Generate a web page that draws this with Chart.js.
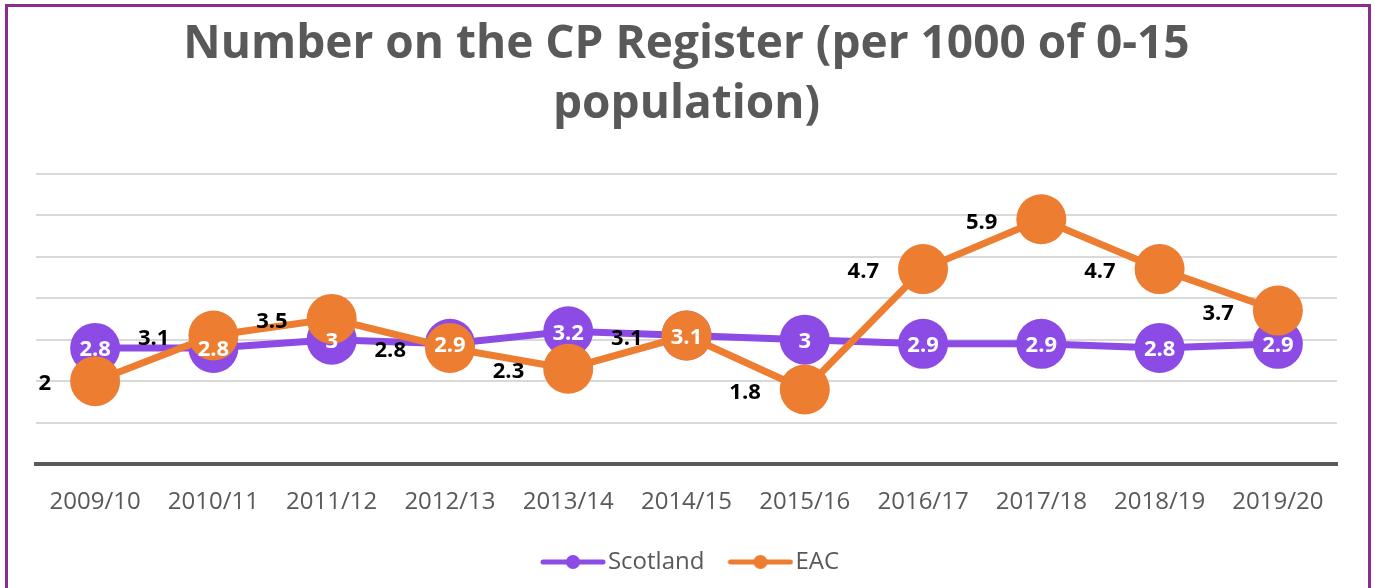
<!DOCTYPE html>
<html>
<head>
<meta charset="utf-8">
<script src="https://cdn.jsdelivr.net/npm/chart.js@4.4.1/dist/chart.umd.min.js"></script>
<style>
  html, body { margin: 0; padding: 0; background: #fff; }
  #wrap { position: relative; width: 1375px; height: 588px; }
  #frame { position: absolute; left: 5px; top: 4px; width: 1360px; height: 600px; border: 3px solid #8B2D8F; }
  canvas { position: absolute; left: 0; top: 0; }
</style>
</head>
<body>
<div id="wrap">
  <div id="frame"></div>
  <canvas id="cpChart" width="1375" height="588"></canvas>
</div>
<script>
// chart values
const years = ["2009/10", "2010/11", "2011/12", "2012/13", "2013/14", "2014/15",
               "2015/16", "2016/17", "2017/18", "2018/19", "2019/20"];
const scotland = [2.8, 2.8, 3, 2.9, 3.2, 3.1, 3, 2.9, 2.9, 2.8, 2.9];
const eac = [2, 3.1, 3.5, 2.8, 2.3, 3.1, 1.8, 4.7, 5.9, 4.7, 3.7];

const PURPLE = "#8C4BE4";
const ORANGE = "#ED7D31";
const GREY = "#595959";
const FONT = "'Open Sans', sans-serif";

// legend marker: line with a dot in the middle.
// image is centred on the legend box, so the visible line is shifted right
// (transparent left margin) to sit close to the label text
function legendMarker(color) {
  const c = document.createElement("canvas");
  c.width = 82; c.height = 16;
  const g = c.getContext("2d");
  g.strokeStyle = color;
  g.lineWidth = 5;
  g.lineCap = "round";
  g.beginPath(); g.moveTo(19, 8); g.lineTo(79, 8); g.stroke();
  g.fillStyle = color;
  g.beginPath(); g.arc(49, 8, 7, 0, Math.PI * 2); g.fill();
  return c;
}

// value labels: EAC black to the left, Scotland white in the dot
const valueLabels = {
  id: "valueLabels",
  afterDatasetsDraw(chart) {
    const ctx = chart.ctx;
    ctx.save();
    ctx.font = "bold 22px " + FONT;
    ctx.textBaseline = "middle";

    const eacMeta = chart.getDatasetMeta(1);
    ctx.fillStyle = "#000";
    ctx.textAlign = "right";
    eacMeta.data.forEach((pt, i) => {
      ctx.fillText(String(eac[i]), pt.x - 44, pt.y + 3);
    });

    const scoMeta = chart.getDatasetMeta(0);
    ctx.fillStyle = "#fff";
    ctx.textAlign = "center";
    scoMeta.data.forEach((pt, i) => {
      ctx.fillText(String(scotland[i]), pt.x, pt.y + 2);
    });
    ctx.restore();
  }
};

const ctx = document.getElementById("cpChart").getContext("2d");

new Chart(ctx, {
  type: "line",
  data: {
    labels: years,
    datasets: [
      {
        label: "Scotland",
        data: scotland,
        borderColor: PURPLE,
        backgroundColor: PURPLE,
        borderWidth: 7,
        pointRadius: 25,
        pointHoverRadius: 25,
        pointBorderWidth: 0,
        pointStyle: "circle",
        order: 1
      },
      {
        label: "EAC",
        data: eac,
        borderColor: ORANGE,
        backgroundColor: ORANGE,
        borderWidth: 7,
        pointRadius: 25,
        pointHoverRadius: 25,
        pointBorderWidth: 0,
        pointStyle: "circle",
        order: 0
      }
    ]
  },
  options: {
    responsive: false,
    animation: false,
    layout: { padding: { left: 36, right: 38, top: 0, bottom: 4 } },
    plugins: {
      title: {
        display: true,
        text: ["Number on the CP Register (per 1000 of 0-15", "population)"],
        color: GREY,
        font: { family: FONT, size: 46, weight: "bold", lineHeight: 1.3 },
        padding: { top: 15, bottom: 39 }
      },
      legend: {
        position: "bottom",
        labels: {
          color: GREY,
          font: { family: FONT, size: 24 },
          usePointStyle: true,
          pointStyleWidth: 62,
          boxHeight: 16,
          padding: 17,
          generateLabels(chart) {
            return chart.data.datasets.map((ds, i) => ({
              text: ds.label,
              fontColor: GREY,
              pointStyle: legendMarker(ds.borderColor),
              datasetIndex: i,
              hidden: false,
              lineWidth: 0
            }));
          }
        }
      },
      tooltip: { enabled: false }
    },
    scales: {
      x: {
        offset: true,
        grid: { display: false },
        border: { color: GREY, width: 4 },
        ticks: { color: GREY, font: { family: FONT, size: 24 }, padding: 16 }
      },
      y: {
        min: 0,
        max: 7,
        ticks: { display: false, stepSize: 1 },
        grid: { color: "#D9D9D9", lineWidth: 2, drawTicks: false },
        border: { display: false }
      }
    }
  },
  plugins: [valueLabels]
});
</script>
</body>
</html>
